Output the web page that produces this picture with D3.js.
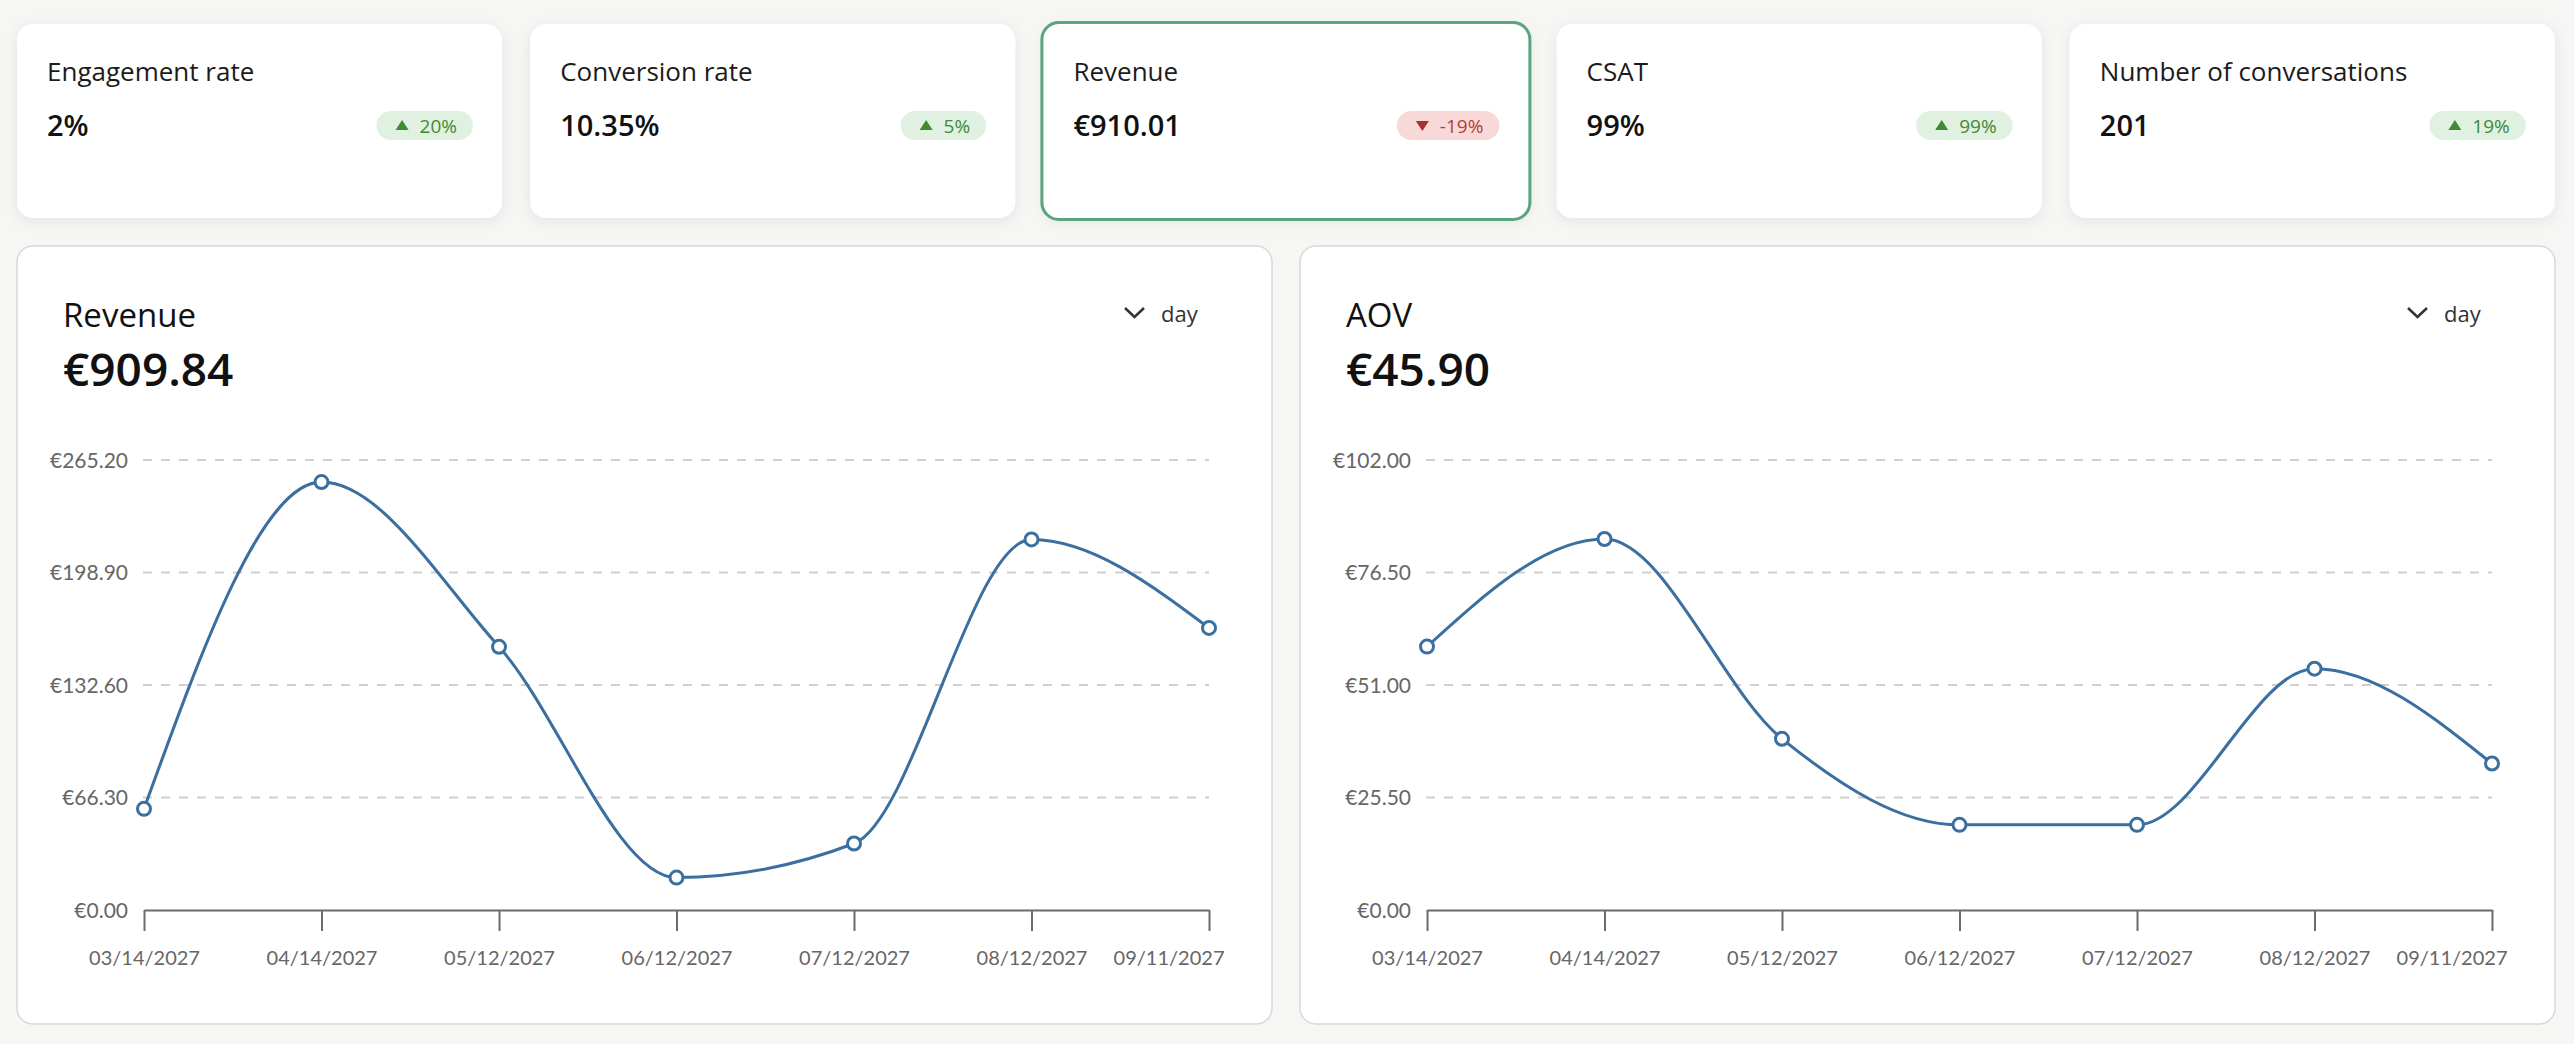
<!DOCTYPE html>
<html>
<head>
<meta charset="utf-8">
<script src="https://cdn.jsdelivr.net/npm/d3@7"></script>
<style>
  html, body { margin: 0; padding: 0; background: #f6f6f4; }
  body { width: 2574px; height: 1044px; overflow: hidden; }
  svg { display: block; font-family: "Open Sans", sans-serif; }
</style>
</head>
<body>
<svg id="page" width="2574" height="1044"></svg>
<script>
// KPI strip
const kpiLabels = ["Engagement rate", "Conversion rate", "Revenue", "CSAT", "Number of conversations"];
const kpiValues = ["2%", "10.35%", "€910.01", "99%", "201"];
const kpiChanges = [20, 5, -19, 99, 19];
const selectedKpi = 2;

// line charts
const dates = ["03/14/2027", "04/14/2027", "05/12/2027", "06/12/2027", "07/12/2027", "08/12/2027", "09/11/2027"];
const revenue = [59.6, 252.2, 155.1, 19.1, 39.2, 218.4, 166.24];
const aov = [59.7, 84.1, 38.8, 19.3, 19.3, 54.7, 33.2];
const chartTitles = ["Revenue", "AOV"];
const chartTotals = ["€909.84", "€45.90"];
const chartMax = [265.2, 102];
const chartSeries = [revenue, aov];

const svg = d3.select('#page')
const defs = svg.append('defs')
const shadow = defs.append('filter').attr('id', 'shadow')
  .attr('x', '-10%').attr('y', '-20%').attr('width', '120%').attr('height', '150%')
shadow.append('feDropShadow')
  .attr('dx', 0).attr('dy', 3).attr('stdDeviation', 7)
  .attr('flood-color', '#000').attr('flood-opacity', 0.08)

const lineColor = '#3b6f9f'
const euro = v => '€' + d3.format(',.2f')(v)

//--- KPI cards
const cardW = 485, cardH = 194, cardTop = 24
const cards = svg.selectAll('.card')
  .data(kpiLabels.map((label, i) => ({label, value: kpiValues[i], change: kpiChanges[i], i})))
  .join('g')
  .attr('class', 'card')
  .attr('transform', d => `translate(${17 + d.i * 513.2},${cardTop})`)

cards.append('rect')
  .attr('width', cardW).attr('height', cardH).attr('rx', 16)
  .attr('fill', '#fff')
  .attr('filter', 'url(#shadow)')

cards.filter(d => d.i === selectedKpi).append('rect')
  .attr('x', -1.5).attr('y', -1.5)
  .attr('width', cardW + 3).attr('height', cardH + 3).attr('rx', 17)
  .attr('fill', 'none').attr('stroke', '#5aa47f').attr('stroke-width', 3)

cards.append('text')
  .attr('x', 30).attr('y', 57)
  .attr('font-size', 26).attr('fill', '#1b1b1b')
  .text(d => d.label)

cards.append('text')
  .attr('x', 30).attr('y', 112)
  .attr('font-size', 29).attr('font-weight', 600).attr('fill', '#111')
  .text(d => d.value)

// badge: width depends on its text, so measure first
cards.each(function(d) {
  const g = d3.select(this)
  const up = d.change >= 0
  const badge = g.append('g')
  const txt = badge.append('text')
    .attr('y', 108.5)
    .attr('font-size', 19)
    .attr('fill', up ? '#3f8a32' : '#b13e38')
    .text(d.change + '%')
  const tw = txt.node().getComputedTextLength()
  const bw = 43 + tw + 16
  const left = 456 - bw
  badge.insert('rect', 'text')
    .attr('x', left).attr('y', 87).attr('width', bw).attr('height', 29).attr('rx', 14.5)
    .attr('fill', up ? '#e0f1e2' : '#f9d9d8')
  txt.attr('x', left + 43)
  const tri = up
    ? [[left + 19, 106], [left + 32, 106], [left + 25.5, 96]]
    : [[left + 19, 97], [left + 32, 97], [left + 25.5, 107]]
  badge.append('path')
    .attr('d', d3.line()(tri) + 'Z')
    .attr('fill', up ? '#3f8a32' : '#a8332d')
})

//--- chart panels
const panelW = 1255, panelH = 778, panelTop = 246
const yTop = 460, yBottom = 910

const panels = svg.selectAll('.panel')
  .data(chartTitles.map((title, i) => ({title, total: chartTotals[i], max: chartMax[i], values: chartSeries[i], px: i === 0 ? 17 : 1300})))
  .join('g')
  .attr('class', 'panel')

panels.each(function(d) {
  const g = d3.select(this)
  const P = d.px

  g.append('rect')
    .attr('x', P).attr('y', panelTop).attr('width', panelW).attr('height', panelH).attr('rx', 16)
    .attr('fill', '#fff').attr('stroke', '#d8d8d4').attr('stroke-width', 1.5)

  g.append('text')
    .attr('x', P + 46).attr('y', 327)
    .attr('font-size', 33).attr('font-weight', 500).attr('fill', '#111')
    .text(d.title)
  g.append('text')
    .attr('x', P + 46).attr('y', 386)
    .attr('font-size', 46).attr('font-weight', 600).attr('fill', '#111')
    .text(d.total)

  // "day" dropdown
  g.append('path')
    .attr('d', `M${P + 1108},${308} L${P + 1117.5},${317} L${P + 1127},${308}`)
    .attr('fill', 'none').attr('stroke', '#333').attr('stroke-width', 2.5)
  g.append('text')
    .attr('x', P + 1144).attr('y', 322)
    .attr('font-size', 22).attr('fill', '#333')
    .text('day')

  const x = d3.scalePoint().domain(dates).range([P + 127, P + 1192])
  const y = d3.scaleLinear().domain([0, d.max]).range([yBottom, yTop])
  const yTicks = d3.range(5).map(k => d.max * k / 4)

  // gridlines
  g.append('g').selectAll('line')
    .data(yTicks.filter(v => v > 0))
    .join('line')
    .attr('x1', P + 126).attr('x2', P + 1192)
    .attr('y1', v => y(v)).attr('y2', v => y(v))
    .attr('stroke', '#cfcfcf').attr('stroke-width', 2).attr('stroke-dasharray', '9,9')

  // y labels
  g.append('g').selectAll('text')
    .data(yTicks)
    .join('text')
    .attr('x', P + 111).attr('y', v => y(v)).attr('dy', '0.36em')
    .attr('text-anchor', 'end')
    .attr('font-family', 'Lato, sans-serif').attr('font-size', 21).attr('fill', '#666')
    .text(euro)

  // x axis
  const xAxis = g.append('g')
    .attr('transform', `translate(0,${yBottom})`)
    .call(d3.axisBottom(x).tickSize(21).tickSizeOuter(0).tickPadding(20))
  xAxis.select('.domain').attr('stroke', '#6b6b6b').attr('stroke-width', 2)
  xAxis.selectAll('.tick line').attr('stroke', '#6b6b6b').attr('stroke-width', 2)
  xAxis.selectAll('.tick text')
    .attr('font-family', 'Lato, sans-serif').attr('font-size', 20).attr('fill', '#666')
  // last label is kept inside the plot edge
  xAxis.selectAll('.tick text').filter(t => t === dates[dates.length - 1])
    .attr('text-anchor', 'end').attr('x', 15)

  const pts = dates.map((dt, k) => ({date: dt, value: d.values[k]}))
  const line = d3.line()
    .x(p => x(p.date))
    .y(p => y(p.value))
    .curve(d3.curveMonotoneX)

  g.append('path')
    .datum(pts)
    .attr('d', line)
    .attr('fill', 'none').attr('stroke', lineColor).attr('stroke-width', 3)

  g.append('g').selectAll('circle')
    .data(pts)
    .join('circle')
    .attr('cx', p => x(p.date)).attr('cy', p => y(p.value))
    .attr('r', 6.5)
    .attr('fill', '#fff').attr('stroke', lineColor).attr('stroke-width', 3)
})
</script>
</body>
</html>
